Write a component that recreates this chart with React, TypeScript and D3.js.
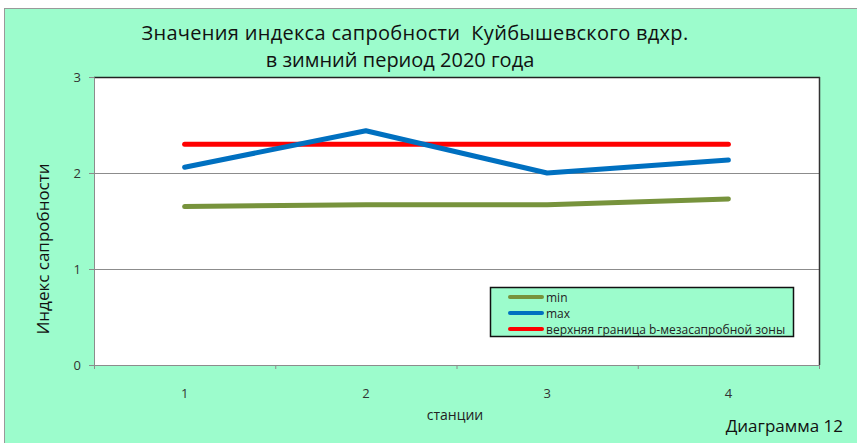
import { useEffect, useRef } from "react";
import * as d3 from "d3";

const stations = ["1", "2", "3", "4"];
const minValues = [1.65, 1.67, 1.67, 1.73];
const maxValues = [2.06, 2.44, 2.0, 2.135];
const upperBound = [2.3, 2.3, 2.3, 2.3];
const yTicks = [0, 1, 2, 3];

const series = [
  { name: "min", values: minValues, color: "#77933c" },
  { name: "max", values: maxValues, color: "#0070c0" },
  { name: "верхняя граница b-мезасапробной зоны", values: upperBound, color: "#ff0000" },
];

export default function App() {
  const svgRef = useRef<SVGSVGElement>(null);

  useEffect(() => {
    if (!svgRef.current) return;
    const svg = d3.select(svgRef.current);
    svg.selectAll("*").remove();

    const width = 857;
    const height = 443;
    const font = "'Open Sans', 'Noto Sans', sans-serif";
    const bg = "#9cfccc";

    // outer chart area
    svg.append("rect").attr("width", width).attr("height", height).attr("fill", "#fff");
    svg.append("rect")
      .attr("x", 4.5).attr("y", 8.5)
      .attr("width", width).attr("height", height)
      .attr("fill", bg)
      .attr("stroke", "#999")
      .attr("stroke-width", 1);

    // plot area
    const plot = { left: 94, top: 77, right: 819, bottom: 365 };

    const x = d3.scaleBand<string>()
      .domain(stations)
      .range([plot.left, plot.right]);

    const y = d3.scaleLinear()
      .domain([0, 3])
      .range([plot.bottom, plot.top]);

    svg.append("rect")
      .attr("x", plot.left).attr("y", plot.top)
      .attr("width", plot.right - plot.left)
      .attr("height", plot.bottom - plot.top)
      .attr("fill", "#fff");

    // gridlines
    yTicks.forEach((t) => {
      if (t === 0 || t === 3) return;
      svg.append("line")
        .attr("x1", plot.left).attr("x2", plot.right)
        .attr("y1", y(t) + 0.5).attr("y2", y(t) + 0.5)
        .attr("stroke", "#8c8c8c").attr("stroke-width", 1);
    });

    // frame: dark top/right, gray axes
    svg.append("line")
      .attr("x1", plot.left).attr("x2", plot.right + 1)
      .attr("y1", plot.top + 0.5).attr("y2", plot.top + 0.5)
      .attr("stroke", "#222").attr("stroke-width", 1.5);
    svg.append("line")
      .attr("x1", plot.right + 0.5).attr("x2", plot.right + 0.5)
      .attr("y1", plot.top).attr("y2", plot.bottom)
      .attr("stroke", "#333").attr("stroke-width", 1.5);

    const yAxis = svg.append("g")
      .attr("transform", `translate(${plot.left},0)`)
      .call(d3.axisLeft(y).tickValues(yTicks).tickSize(5).tickPadding(8).tickFormat(d3.format("d")));
    yAxis.select(".domain").attr("stroke", "#8c8c8c");
    yAxis.selectAll(".tick line").attr("stroke", "#8c8c8c");
    yAxis.selectAll("text")
      .attr("font-family", font).attr("font-size", 13).attr("fill", "#333");

    const xAxis = svg.append("g")
      .attr("transform", `translate(0,${plot.bottom})`)
      .call(d3.axisBottom(x).tickSize(0).tickPadding(24));
    xAxis.select(".domain").attr("stroke", "#8c8c8c");
    xAxis.selectAll("text")
      .attr("font-family", font).attr("font-size", 13).attr("fill", "#333");

    // category boundary ticks
    const bounds = stations.map((s) => x(s)!).concat([plot.right]);
    bounds.forEach((bx) => {
      svg.append("line")
        .attr("x1", bx + 0.5).attr("x2", bx + 0.5)
        .attr("y1", plot.bottom).attr("y2", plot.bottom + 4)
        .attr("stroke", "#8c8c8c");
    });

    // series lines
    const line = d3.line<number>()
      .x((_, i) => x(stations[i])! + x.bandwidth() / 2)
      .y((d) => y(d));

    [series[0], series[2], series[1]].forEach((s) => {
      svg.append("path")
        .attr("d", line(s.values))
        .attr("fill", "none")
        .attr("stroke", s.color)
        .attr("stroke-width", 5)
        .attr("stroke-linecap", "round")
        .attr("stroke-linejoin", "round");
    });

    // title
    const title = svg.append("text")
      .attr("font-family", font).attr("font-size", 20).attr("fill", "#111")
      .attr("text-anchor", "middle")
      .attr("xml:space", "preserve");
    title.append("tspan").attr("x", 415).attr("y", 40)
      .attr("letter-spacing", 0.3)
      .text("Значения индекса сапробности  Куйбышевского вдхр.");
    title.append("tspan").attr("x", 400).attr("y", 67).text("в зимний период 2020 года");

    // axis titles
    svg.append("text")
      .attr("transform", `translate(49,249) rotate(-90)`)
      .attr("text-anchor", "middle")
      .attr("font-family", font).attr("font-size", 17).attr("fill", "#111")
      .text("Индекс сапробности");

    svg.append("text")
      .attr("x", 455).attr("y", 420)
      .attr("text-anchor", "middle")
      .attr("font-family", font).attr("font-size", 14).attr("fill", "#222")
      .text("станции");

    svg.append("text")
      .attr("x", 843).attr("y", 432)
      .attr("text-anchor", "end")
      .attr("font-family", font).attr("font-size", 17).attr("fill", "#111")
      .text("Диаграмма 12");

    // legend
    const lg = { x: 490, y: 287, w: 303, h: 49 };
    svg.append("rect")
      .attr("x", lg.x + 0.5).attr("y", lg.y + 0.5)
      .attr("width", lg.w).attr("height", lg.h)
      .attr("fill", bg).attr("stroke", "#111").attr("stroke-width", 1.5);
    series.forEach((s, i) => {
      const ly = lg.y + 10 + i * 16;
      svg.append("line")
        .attr("x1", lg.x + 20).attr("x2", lg.x + 52)
        .attr("y1", ly).attr("y2", ly)
        .attr("stroke", s.color).attr("stroke-width", 4)
        .attr("stroke-linecap", "round");
      svg.append("text")
        .attr("x", lg.x + 56).attr("y", ly)
        .attr("dominant-baseline", "central")
        .attr("font-family", font).attr("font-size", 12).attr("fill", "#222")
        .text(s.name);
    });
  }, []);

  return (
    <svg
      ref={svgRef}
      width={857}
      height={443}
      style={{ position: "absolute", left: 0, top: 0, display: "block" }}
    />
  );
}
